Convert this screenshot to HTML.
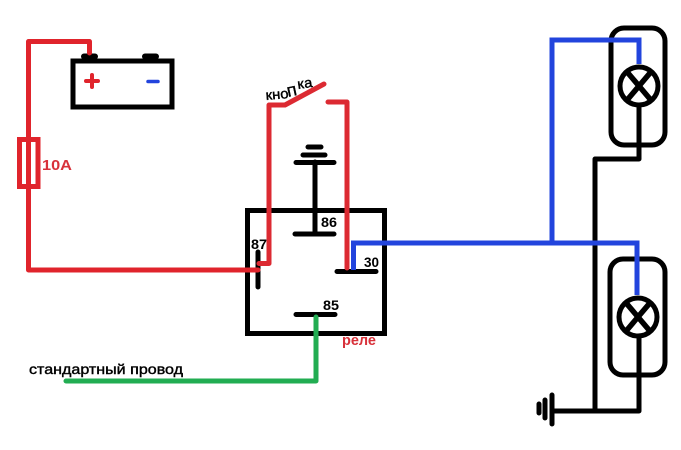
<!DOCTYPE html>
<html><head><meta charset="utf-8"><style>
html,body{margin:0;padding:0;background:#fff}
svg{display:block}
text{font-family:"Liberation Sans","DejaVu Sans",sans-serif}
</style></head><body>
<svg width="681" height="450" viewBox="0 0 681 450" xmlns="http://www.w3.org/2000/svg">
<rect width="681" height="450" fill="#fff"/>
<g fill="none" stroke="#000" stroke-linecap="round" stroke-linejoin="round">
<!-- battery -->
<rect x="73" y="61" width="99" height="46" stroke-width="5" stroke-linejoin="miter"/>
<path d="M84 56.500H95M145 56.500H156" stroke-width="6"/>
<!-- relay -->
<rect x="247.500" y="210.500" width="137" height="123" stroke-width="5" stroke-linejoin="miter"/>
<path d="M308 147H321M303 155H325M296 162.500H334" stroke-width="5"/>
<path d="M315 162V234M295 234H334" stroke-width="5"/>
<path d="M258 252V287M337 271.500H376M296 314.500H335" stroke-width="5"/>
<!-- lamps -->
<rect x="611" y="28" width="54" height="117" rx="13" stroke-width="5"/>
<rect x="610" y="259" width="55" height="116" rx="13" stroke-width="5"/>
<circle cx="639" cy="86" r="19" stroke-width="5" fill="#fff"/>
<circle cx="638" cy="317" r="19" stroke-width="5" fill="#fff"/>
<path d="M628 73L650 99M650 73L628 99M627 304L649 330M649 304L627 330" stroke-width="5.500"/>
<!-- earth wires -->
<path d="M639 107V159H595V411M639 338V411H553" stroke-width="5"/>
<path d="M552 395V424M545 400V418M539 404V413" stroke-width="5"/>
</g>
<g fill="none" stroke-linecap="round" stroke-linejoin="round">
<path d="M89.500 53V41.500H28.500V270H258" stroke="#e0242c" stroke-width="5"/>
<rect x="19.500" y="139.500" width="18.500" height="47" stroke="#e0242c" stroke-width="5" stroke-linejoin="miter"/>
<path d="M259 263.500H269V105H285L324 84" stroke="#dc2a32" stroke-width="5"/>
<path d="M328 102H347V268" stroke="#dc2a32" stroke-width="5"/>
<path d="M86 81H98M92 75V87" stroke="#e0242c" stroke-width="4"/>
</g>
<g fill="none" stroke="#2244dd" stroke-width="5" stroke-linejoin="miter">
<path d="M353.500 270V243H637V295"/>
<path d="M552 243V40H639V64"/>
<path d="M148 81.500H158" stroke-width="3.500" stroke-linecap="round"/>
</g>
<path d="M316 317V381H66" fill="none" stroke="#22ad52" stroke-width="5" stroke-linecap="round" stroke-linejoin="round"/>
<g fill="#000" font-size="14" font-weight="bold">
<text x="321" y="227" textLength="16" lengthAdjust="spacingAndGlyphs">86</text>
<text x="251" y="249" textLength="16" lengthAdjust="spacingAndGlyphs">87</text>
<text x="364" y="267" textLength="15" lengthAdjust="spacingAndGlyphs">30</text>
<text x="323" y="310" textLength="16" lengthAdjust="spacingAndGlyphs">85</text>
<text x="29" y="374" font-size="14" font-weight="normal" stroke="#000" stroke-width=".4" textLength="154" lengthAdjust="spacingAndGlyphs">стандартный провод</text>
<text x="266" y="100" font-size="14" font-weight="normal" stroke="#000" stroke-width=".4" textLength="23" lengthAdjust="spacingAndGlyphs" transform="rotate(-5 266 100)">кно</text>
<text x="288" y="97" font-size="18" font-weight="normal" stroke="#000" stroke-width=".3" textLength="10" lengthAdjust="spacingAndGlyphs" transform="rotate(-12 288 97)">п</text>
<text x="298" y="89" font-size="14" font-weight="normal" stroke="#000" stroke-width=".4" textLength="15" lengthAdjust="spacingAndGlyphs" transform="rotate(-8 298 89)">ка</text>
</g>
<g fill="#d8313a" font-weight="bold">
<text x="42" y="170" font-size="15" textLength="30" lengthAdjust="spacingAndGlyphs">10A</text>
<text x="342" y="345" font-size="15" textLength="34" lengthAdjust="spacingAndGlyphs">реле</text>
</g>
</svg>
</body></html>
